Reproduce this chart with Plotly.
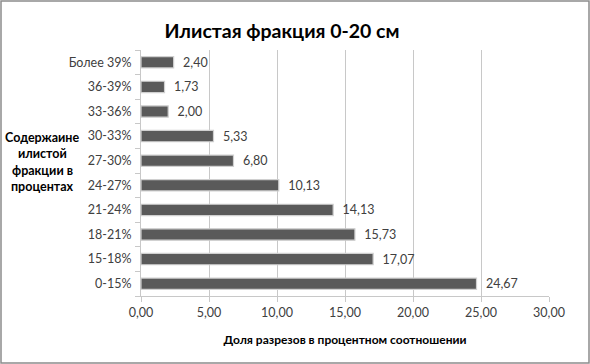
import plotly.graph_objects as go

categories = ["0-15%", "15-18%", "18-21%", "21-24%", "24-27%", "27-30%",
              "30-33%", "33-36%", "36-39%", "Более 39%"]
values = [24.67, 17.07, 15.73, 14.13, 10.13, 6.80, 5.33, 2.00, 1.73, 2.40]
x_ticks = [0, 5, 10, 15, 20, 25, 30]
y_title_lines = ["Содержаине", "илистой", "фракции в", "процентах"]

FONT = "Lato, 'Open Sans', sans-serif"
W, H = 590, 364
L, R, T, B = 141, 41, 50, 68
pw, ph = W - L - R, H - T - B

fig = go.Figure()
fig.add_trace(go.Bar(
    x=values, y=categories, orientation="h",
    width=0.46,
    marker=dict(color="#5a5a5a", line=dict(color="#d0d0d0", width=1.2)),
    text=values, texttemplate="\u00a0\u00a0%{x:.2f}", textposition="outside",
    constraintext="none",
    textfont=dict(family=FONT, size=12.5, color="#404040"),
    cliponaxis=False,
))

fig.update_layout(
    width=W, height=H,
    margin=dict(l=L, r=R, t=T, b=B),
    paper_bgcolor="white", plot_bgcolor="white",
    separators=", ",
    showlegend=False,
    title=dict(text="<b>Илистая фракция 0-20 см</b>", x=282 / W, xanchor="center",
               y=1 - 31 / H, yanchor="middle",
               font=dict(family=FONT, size=19.5, color="black")),
    xaxis=dict(range=[0, 30], tickvals=x_ticks, tickformat=".2f",
               showgrid=True, gridcolor="#c8c8c8", gridwidth=1,
               zeroline=False, showline=True, linecolor="#c8c8c8",
               ticks="outside", ticklen=5, tickcolor="#c8c8c8",
               tickfont=dict(family=FONT, size=12.5, color="#404040"),
               title=dict(text="<b>Доля разрезов в процентном соотношении</b>",
                          font=dict(family=FONT, size=12, color="black"),
                          standoff=16)),
    yaxis=dict(categoryorder="array", categoryarray=categories,
               showline=True, linecolor="#c8c8c8",
               ticks="outside", ticklen=5, tickcolor="#c8c8c8",
               tickson="boundaries", showgrid=False, ticklabelstandoff=6,
               tickfont=dict(family=FONT, size=12.5, color="#404040")),
    bargap=0.5,
)

for i, line in enumerate(y_title_lines):
    ypix = 137 + i * 16.6
    fig.add_annotation(
        text="<b>" + line + "</b>",
        xref="paper", yref="paper",
        x=(42 - L) / pw, y=(T + ph - ypix) / ph,
        xanchor="center", yanchor="middle", showarrow=False, align="center",
        font=dict(family=FONT, size=12.5, color="black"),
    )

fig.add_shape(type="rect", xref="paper", yref="paper",
              x0=(1 - L) / pw, x1=(W - 1 - L) / pw,
              y0=(T + ph - (H - 1)) / ph, y1=(T + ph - 1) / ph,
              line=dict(color="#8c8c8c", width=1.5), fillcolor="rgba(0,0,0,0)",
              layer="below")

fig.write_html("out.html", config={"displayModeBar": False},
               post_script="document.body.style.margin='0';document.body.style.padding='0';")
